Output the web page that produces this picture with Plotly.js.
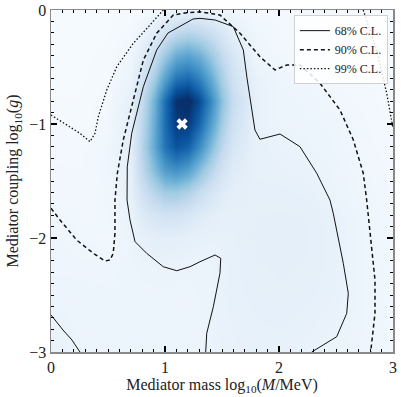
<!DOCTYPE html>
<html>
<head>
<meta charset="utf-8">
<script src="https://cdn.plot.ly/plotly-3.0.1.min.js"></script>
<style>
  html, body { margin: 0; padding: 0; background: #fff; }
  #chart { width: 401px; height: 397px; }
</style>
</head>
<body>
<div id="chart"></div>
<script>
// grid of the posterior density (log10 M, log10 g)
const massGrid = [0, 0.25, 0.5, 0.7, 0.8, 0.9, 1.0, 1.1, 1.2, 1.3, 1.4, 1.5, 1.6, 1.8, 2.0, 2.25, 2.5, 2.75, 3.0];
const couplingGrid = [-3, -2.75, -2.5, -2.25, -2.0, -1.8, -1.6, -1.4, -1.2, -1.0, -0.8, -0.6, -0.4, -0.2, 0];
const density = [
  [0.07, 0.058, 0.05, 0.05, 0.05, 0.05, 0.05, 0.05, 0.05, 0.05, 0.062, 0.068, 0.072, 0.078, 0.078, 0.068, 0.055, 0.045, 0.03],
  [0.062, 0.05, 0.048, 0.048, 0.048, 0.048, 0.048, 0.048, 0.05, 0.052, 0.065, 0.07, 0.074, 0.08, 0.082, 0.076, 0.066, 0.045, 0.03],
  [0.052, 0.05, 0.048, 0.048, 0.049, 0.05, 0.05, 0.05, 0.052, 0.055, 0.062, 0.072, 0.078, 0.085, 0.088, 0.084, 0.072, 0.045, 0.03],
  [0.045, 0.045, 0.044, 0.051, 0.058, 0.063, 0.064, 0.062, 0.058, 0.056, 0.06, 0.07, 0.078, 0.088, 0.09, 0.088, 0.075, 0.045, 0.028],
  [0.045, 0.035, 0.03, 0.06, 0.082, 0.097, 0.102, 0.097, 0.088, 0.08, 0.075, 0.077, 0.08, 0.09, 0.092, 0.09, 0.075, 0.045, 0.028],
  [0.04, 0.03, 0.035, 0.07, 0.127, 0.168, 0.191, 0.185, 0.16, 0.129, 0.102, 0.088, 0.085, 0.088, 0.09, 0.088, 0.072, 0.045, 0.028],
  [0.03, 0.028, 0.036, 0.085, 0.198, 0.292, 0.361, 0.366, 0.319, 0.243, 0.171, 0.121, 0.096, 0.084, 0.084, 0.078, 0.055, 0.038, 0.025],
  [0.028, 0.027, 0.038, 0.095, 0.267, 0.431, 0.575, 0.621, 0.56, 0.431, 0.292, 0.184, 0.12, 0.08, 0.076, 0.068, 0.05, 0.036, 0.024],
  [0.025, 0.025, 0.037, 0.1, 0.296, 0.514, 0.735, 0.85, 0.804, 0.642, 0.441, 0.27, 0.159, 0.079, 0.068, 0.056, 0.045, 0.03, 0.022],
  [0.02, 0.012, 0.032, 0.1, 0.272, 0.5, 0.765, 0.945, 0.945, 0.792, 0.565, 0.35, 0.2, 0.076, 0.053, 0.05, 0.045, 0.028, 0.018],
  [0.012, 0.012, 0.027, 0.087, 0.248, 0.475, 0.76, 0.985, 1.02, 0.885, 0.65, 0.41, 0.233, 0.08, 0.052, 0.045, 0.03, 0.025, 0.012],
  [0.01, 0.01, 0.017, 0.06, 0.177, 0.343, 0.552, 0.725, 0.769, 0.679, 0.51, 0.332, 0.196, 0.072, 0.047, 0.04, 0.026, 0.02, 0.01],
  [0.008, 0.01, 0.014, 0.045, 0.116, 0.23, 0.378, 0.507, 0.549, 0.494, 0.379, 0.254, 0.154, 0.047, 0.029, 0.026, 0.024, 0.018, 0.01],
  [0.008, 0.008, 0.011, 0.025, 0.055, 0.111, 0.19, 0.262, 0.295, 0.273, 0.219, 0.151, 0.094, 0.038, 0.027, 0.024, 0.022, 0.016, 0.01],
  [0.008, 0.008, 0.01, 0.013, 0.019, 0.03, 0.048, 0.061, 0.067, 0.063, 0.055, 0.044, 0.036, 0.027, 0.025, 0.022, 0.02, 0.015, 0.008]
];

// 68% C.L. contour (main piece and bottom-left corner piece)
const cl68x = [1.357, 1.366, 1.424, 1.482, 1.489, 1.439, 1.307, 1.219, 1.103, 0.985, 0.839, 0.737, 0.693, 0.667, 0.669, 0.708, 0.81, 0.927, 1.026, 1.146, 1.246, 1.307, 1.44, 1.599, 1.687, 1.719, 1.746, 1.789, 1.833, 1.92, 2.009, 2.184, 2.331, 2.447, 2.476, 2.564, 2.608, 2.594, 2.506, 2.287];
const cl68y = [-3.0, -2.836, -2.603, -2.31, -2.178, -2.149, -2.208, -2.252, -2.287, -2.252, -2.134, -2.032, -1.842, -1.667, -1.375, -1.082, -0.673, -0.351, -0.202, -0.132, -0.079, -0.073, -0.088, -0.146, -0.351, -0.596, -0.789, -1.053, -1.134, -1.11, -1.088, -1.199, -1.432, -1.667, -1.783, -2.222, -2.485, -2.661, -2.866, -3.0];
const cl68cornerX = [0, 0.105, 0.184, 0.254];
const cl68cornerY = [-2.675, -2.807, -2.895, -3.0];

// 90% C.L. contour
const cl90x = [0, 0.079, 0.225, 0.371, 0.474, 0.518, 0.546, 0.561, 0.561, 0.582, 0.634, 0.722, 0.81, 0.927, 1.073, 1.19, 1.307, 1.482, 1.658, 1.833, 1.965, 2.068, 2.184, 2.36, 2.535, 2.652, 2.739, 2.769, 2.798, 2.842, 2.842, 2.813, 2.804];
const cl90y = [-1.739, -1.842, -2.018, -2.134, -2.202, -2.193, -2.134, -1.959, -1.667, -1.432, -1.14, -0.789, -0.439, -0.204, -0.044, -0.024, -0.015, -0.044, -0.204, -0.41, -0.526, -0.482, -0.482, -0.643, -0.877, -1.14, -1.432, -1.667, -1.93, -2.368, -2.661, -2.954, -3.0];

// 99% C.L. contour (left and right pieces)
const cl99leftX = [0, 0.14, 0.254, 0.342, 0.386, 0.415, 0.489, 0.577, 0.722, 0.868, 0.985];
const cl99leftY = [-0.921, -1.009, -1.082, -1.155, -1.082, -0.936, -0.702, -0.497, -0.292, -0.132, 0];
const cl99rightX = [2.739, 2.857, 2.945, 2.989, 3.0];
const cl99rightY = [0, -0.351, -0.731, -0.994, -1.04];

// best fit point
const bestFit = {x: [1.15], y: [-1.0]};

const blues = [[0, '#f7fbff'], [0.125, '#deebf7'], [0.25, '#c6dbef'], [0.375, '#9ecae1'], [0.5, '#6baed6'], [0.625, '#4292c6'], [0.75, '#2171b5'], [0.875, '#08519c'], [1, '#08306b']];
const serif = '"Liberation Serif", "DejaVu Serif", serif';

const line = (x, y, name, dash, width, show) => ({
  type: 'scatter', mode: 'lines', x, y, name, legendgroup: name, showlegend: show,
  line: {color: '#111', width, dash}, hoverinfo: 'skip'
});

const traces = [
  {type: 'heatmap', x: massGrid, y: couplingGrid, z: density, colorscale: blues, zmin: 0, zmax: 0.99, zsmooth: 'best', showscale: false, hoverinfo: 'skip'},
  line(cl68x, cl68y, '68% C.L.', 'solid', 1, true),
  line(cl68cornerX, cl68cornerY, '68% C.L.', 'solid', 1, false),
  line(cl90x, cl90y, '90% C.L.', '4px,3px', 1.5, true),
  line(cl99leftX, cl99leftY, '99% C.L.', '1.5px,2px', 1.3, true),
  line(cl99rightX, cl99rightY, '99% C.L.', '1.5px,2px', 1.3, false),
  {type: 'scatter', mode: 'markers', x: bestFit.x, y: bestFit.y, showlegend: false, hoverinfo: 'skip',
   marker: {symbol: 'x', size: 10, color: '#fff', line: {width: 0}}}
];

const titleFont = {family: serif, size: 16, color: '#222'};
const axis = (range, title, standoff) => ({
  range, dtick: 1, tick0: 0, showgrid: false, zeroline: false,
  showline: true, linecolor: '#8a8a8a', linewidth: 1.5, mirror: 'allticks',
  ticks: 'inside', ticklen: 6, tickwidth: 1.2, tickcolor: '#000',
  minor: {ticks: 'inside', ticklen: 3, dtick: 0.1, tickcolor: '#000', tickwidth: 1},
  tickfont: {family: serif, size: 16, color: '#222'},
  title: {text: title, standoff, font: titleFont}
});

const layout = {
  width: 401, height: 397,
  margin: {l: 51, r: 8, t: 10, b: 45},
  paper_bgcolor: '#fff', plot_bgcolor: '#fff',
  xaxis: axis([0, 3], 'Mediator mass log<sub>10</sub>(<i>M</i>/MeV)', 2),
  yaxis: axis([-3, 0], 'Mediator coupling log<sub>10</sub>(<i>g</i>)', 6),
  legend: {x: 0.985, y: 0.985, xanchor: 'right', yanchor: 'top', bgcolor: 'rgba(255,255,255,0.85)', bordercolor: '#d0d0d0', borderwidth: 1, font: {family: serif, size: 12, color: '#222'}, tracegroupgap: 0},
  showlegend: true
};

Plotly.newPlot('chart', traces, layout, {displayModeBar: false, staticPlot: true});
</script>
</body>
</html>
